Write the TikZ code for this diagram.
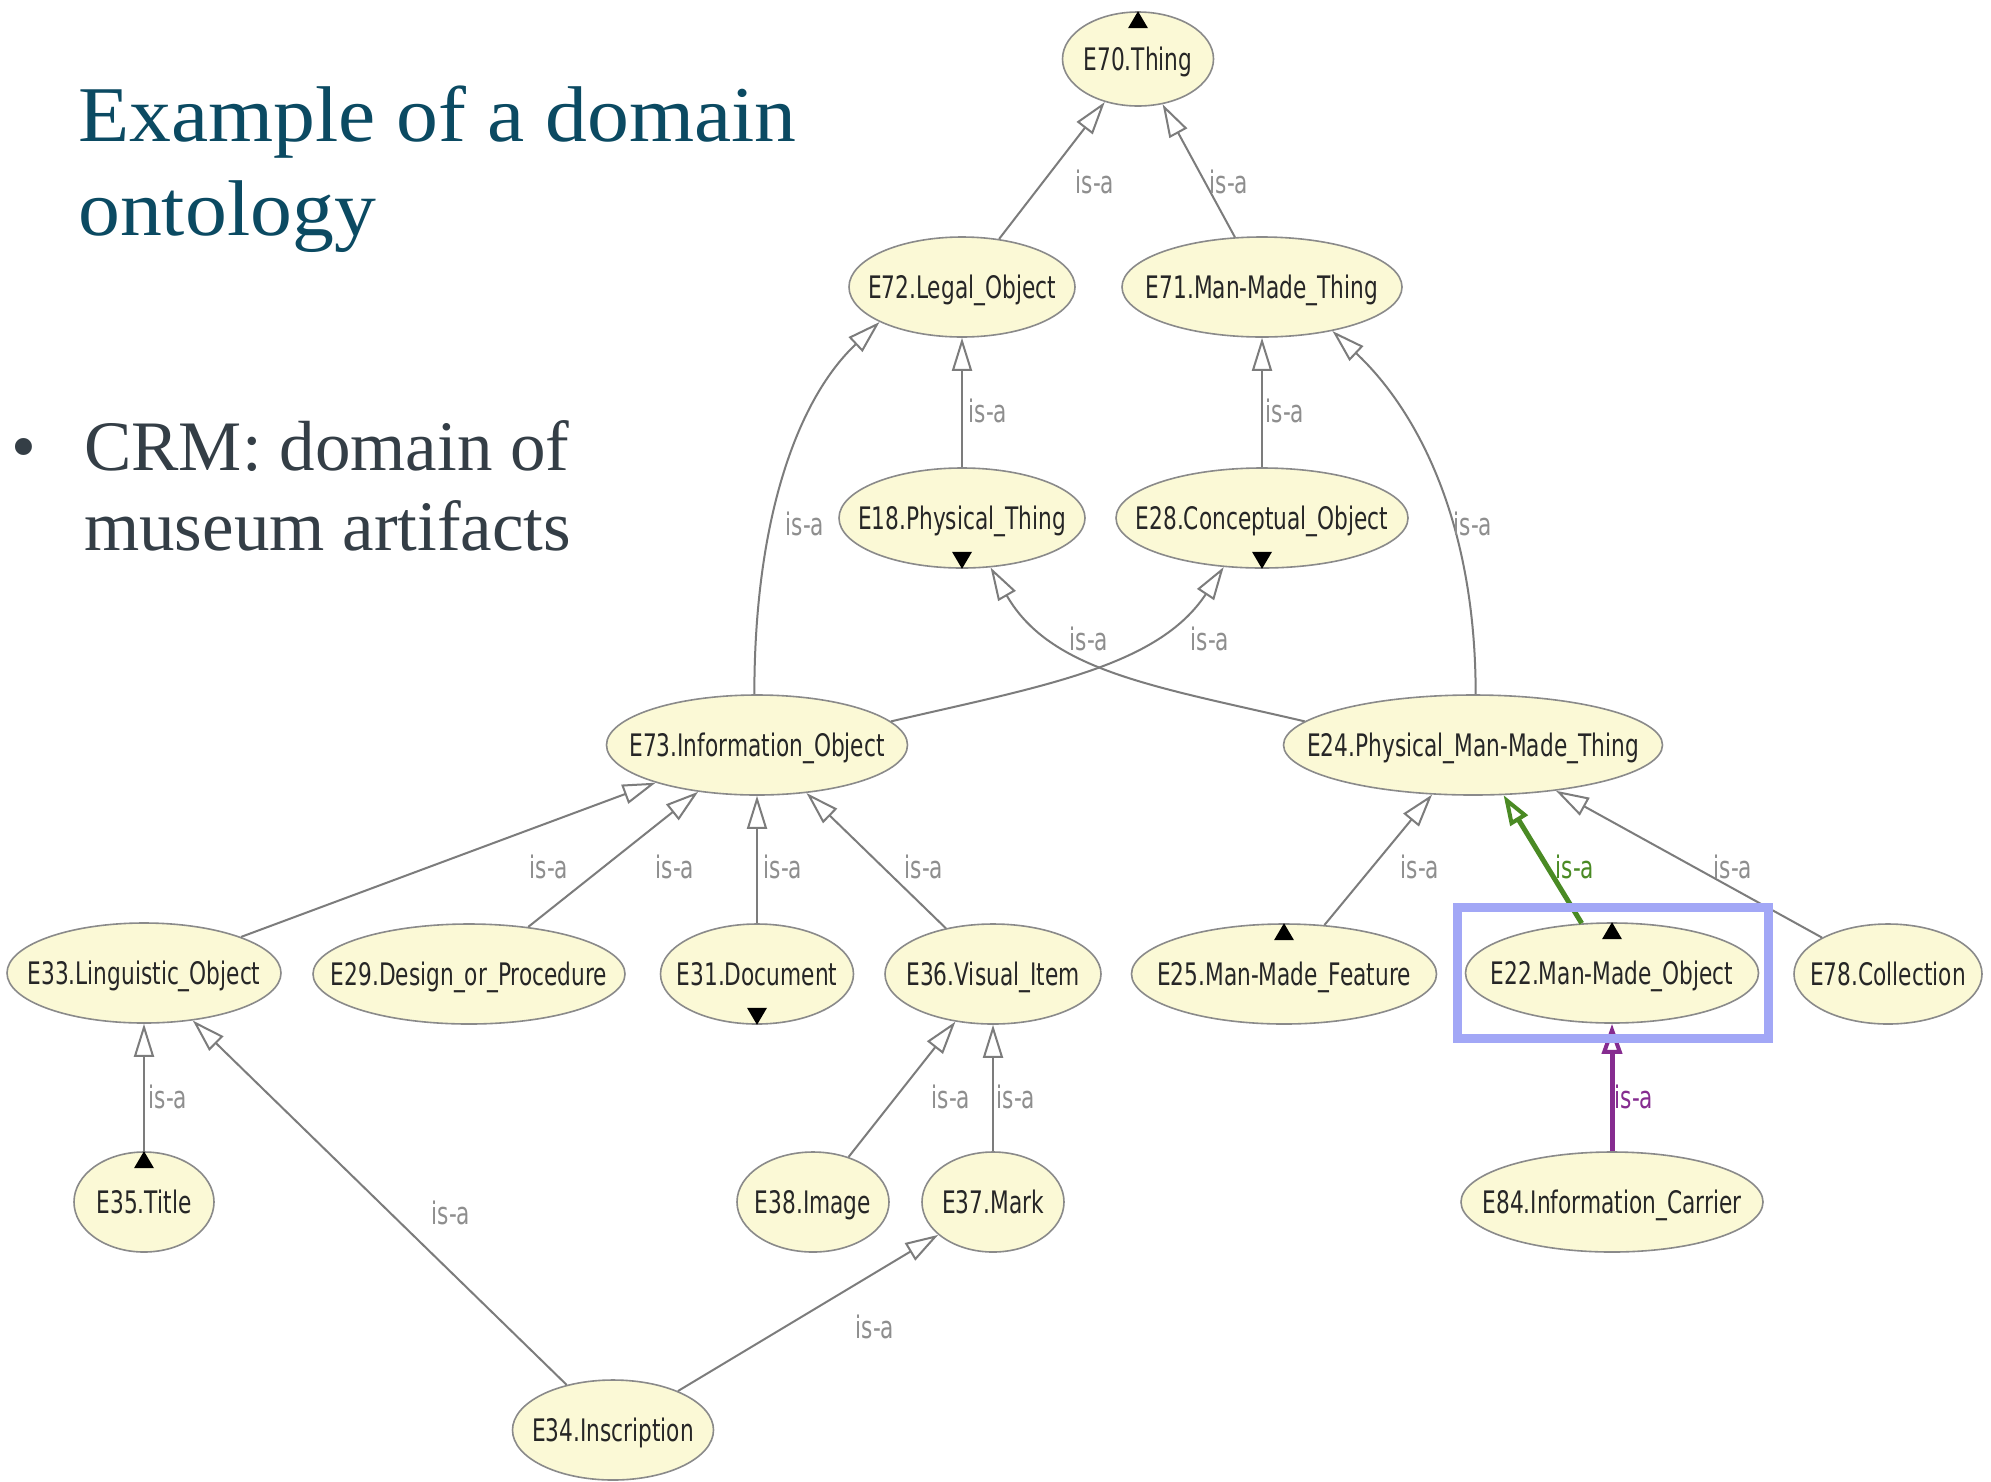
\documentclass[tikz,border=0pt]{standalone}
\usepackage{fontspec}
\setmainfont{Liberation Serif}
\newfontfamily\nodefont[FakeStretch=0.70]{DejaVu Sans}
\newfontfamily\titlefont[FakeStretch=1.06]{Liberation Serif}
\usetikzlibrary{shapes.geometric, arrows.meta}

\definecolor{nodefill}{HTML}{FBF9D6}
\definecolor{nodeline}{HTML}{8A8A8A}
\definecolor{edgegray}{HTML}{7C7C7C}
\definecolor{labelgray}{HTML}{8E8E8E}
\definecolor{titleteal}{HTML}{0B4A62}
\definecolor{bodyslate}{HTML}{343E46}
\definecolor{isagreen}{HTML}{4A8A24}
\definecolor{isapurple}{HTML}{862C90}
\definecolor{selblue}{HTML}{A2A7F6}

\newcommand\zw[1]{\makebox[0pt]{#1}}

\tikzset{
  cls/.style={ellipse, draw=nodeline, line width=1.6pt, fill=nodefill,
    inner sep=0pt, minimum height=100pt, minimum width=#1,
    font=\nodefont\fontsize{31pt}{36pt}\selectfont, text=black!85,
    text height=22.6pt, text depth=0pt},
  isa/.style={draw=edgegray, line width=2pt,
    -{Triangle[length=33pt,width=20pt,fill=white]}},
  isagreenedge/.style={draw=isagreen, line width=5pt,
    -{Triangle[length=30pt,width=20pt,fill=white,line width=4pt]}},
  isapurpleedge/.style={draw=isapurple, line width=5pt,
    -{Triangle[length=30pt,width=20pt,fill=white,line width=4pt]}},
  lbl/.style={font=\nodefont\fontsize{31pt}{36pt}\selectfont, text=labelgray,
    inner sep=0pt, text height=23pt, text depth=0pt},
  marker/.style={fill=black},
  titletext/.style={anchor=base west, inner sep=0pt, text=titleteal,
    font=\titlefont\fontsize{79pt}{90pt}\selectfont},
  bodytext/.style={anchor=base west, inner sep=0pt, text=bodyslate,
    font=\fontsize{71pt}{80pt}\selectfont},
}

\begin{document}
\begin{tikzpicture}[x=1pt, y=-1pt]
\fill[white] (0,0) rectangle (1991,1481);
\useasboundingbox (0,0) rectangle (1991,1481);

% heading and bullet text
\node[titletext] (title1) at (78,141) {Example of a domain};
\node[titletext] (title2) at (78,235) {ontology};
\node[bodytext] (bullet) at (11,470) {•};
\node[bodytext] (body1) at (84,470) {CRM: domain of};
\node[bodytext] (body2) at (84,550) {museum artifacts};

% class nodes
\node[cls=151pt, minimum height=94pt] (E70) at (1138,59) {\zw{E70.Thing}};
\node[cls=226pt] (E72) at (962,287) {\zw{E72.Legal\_Object}};
\node[cls=280pt] (E71) at (1262,287) {\zw{E71.Man-Made\_Thing}};
\node[cls=246pt] (E18) at (962,518) {\zw{E18.Physical\_Thing}};
\node[cls=292pt] (E28) at (1262,518) {\zw{E28.Conceptual\_Object}};
\node[cls=301pt] (E73) at (757,745) {\zw{E73.Information\_Object}};
\node[cls=379pt] (E24) at (1473,745) {\zw{E24.Physical\_Man-Made\_Thing}};
\node[cls=274pt] (E33) at (144,973) {\zw{E33.Linguistic\_Object}};
\node[cls=312pt] (E29) at (469,974) {\zw{E29.Design\_or\_Procedure}};
\node[cls=193pt] (E31) at (757,974) {\zw{E31.Document}};
\node[cls=216pt] (E36) at (993,974) {\zw{E36.Visual\_Item}};
\node[cls=305pt] (E25) at (1284,974) {\zw{E25.Man-Made\_Feature}};
\node[cls=293pt] (E22) at (1612,973) {\zw{E22.Man-Made\_Object}};
\node[cls=188pt] (E78) at (1888,974) {\zw{E78.Collection}};
\node[cls=140pt] (E35) at (144,1202) {\zw{E35.Title}};
\node[cls=152pt] (E38) at (813,1202) {\zw{E38.Image}};
\node[cls=142pt] (E37) at (993,1202) {\zw{E37.Mark}};
\node[cls=302pt] (E84) at (1612,1202) {\zw{E84.Information\_Carrier}};
\node[cls=201pt] (E34) at (613,1430) {\zw{E34.Inscription}};

% expand / collapse markers
\fill[marker] (E70.north) -- ++(-10,17) -- ++(20,0) -- cycle;
\fill[marker] (E25.north) -- ++(-10,17) -- ++(20,0) -- cycle;
\fill[marker] (E22.north) -- ++(-10,17) -- ++(20,0) -- cycle;
\fill[marker] (E35.north) -- ++(-10,17) -- ++(20,0) -- cycle;
\fill[marker] (E18.south) -- ++(-10,-17) -- ++(20,0) -- cycle;
\fill[marker] (E28.south) -- ++(-10,-17) -- ++(20,0) -- cycle;
\fill[marker] (E31.south) -- ++(-10,-17) -- ++(20,0) -- cycle;

% is-a edges
\draw[isa] (E72) -- (E70);
\draw[isa] (E71) -- (E70);
\draw[isa] (E18) -- (E72);
\draw[isa] (E28) -- (E71);
\draw[isa] (E73.93) .. controls +(0,-180) and +(-80,75) .. (E72.203);
\draw[isa] (E24.87) .. controls +(0,-180) and +(80,75) .. (E71.-32);
\draw[isa] (E24.172) .. controls +(-150,-35) and +(60,104) .. (E18.-60);
\draw[isa] (E73.10) .. controls +(150,-35) and +(-66,100) .. (E28.232);
\draw[isa] (E33) -- (E73);
\draw[isa] (E29) -- (E73);
\draw[isa] (E31) -- (E73);
\draw[isa] (E36) -- (E73);
\draw[isa] (E25) -- (E24);
\draw[isagreenedge] (E22) -- (E24);
\draw[isa] (E78) -- (E24);
\draw[isa] (E35) -- (E33);
\draw[isa] (E34) -- (E33);
\draw[isa] (E38) -- (E36);
\draw[isa] (E37) -- (E36);
\draw[isa] (E34) -- (E37);
\draw[isapurpleedge] (E84) -- (E22);

% edge labels
\node[lbl] (lab1) at (1095,182) {is-a};
\node[lbl] (lab2) at (1229,182) {is-a};
\node[lbl] (lab3) at (988,411) {is-a};
\node[lbl] (lab4) at (1285,411) {is-a};
\node[lbl] (lab5) at (805,524) {is-a};
\node[lbl] (lab6) at (1473,524) {is-a};
\node[lbl] (lab7) at (1089,639) {is-a};
\node[lbl] (lab8) at (1210,639) {is-a};
\node[lbl] (lab9) at (549,867) {is-a};
\node[lbl] (lab10) at (675,867) {is-a};
\node[lbl] (lab11) at (783,867) {is-a};
\node[lbl] (lab12) at (924,867) {is-a};
\node[lbl] (lab13) at (1420,867) {is-a};
\node[lbl, text=isagreen] (lab14) at (1575,867) {is-a};
\node[lbl] (lab15) at (1733,867) {is-a};
\node[lbl] (lab16) at (168,1097) {is-a};
\node[lbl] (lab17) at (451,1213) {is-a};
\node[lbl] (lab18) at (951,1097) {is-a};
\node[lbl] (lab19) at (1016,1097) {is-a};
\node[lbl] (lab20) at (875,1327) {is-a};
\node[lbl, text=isapurple] (lab21) at (1634,1097) {is-a};

% selection frame
\draw[selblue, line width=9pt] (1457,907) rectangle (1768,1038);
\end{tikzpicture}
\end{document}
